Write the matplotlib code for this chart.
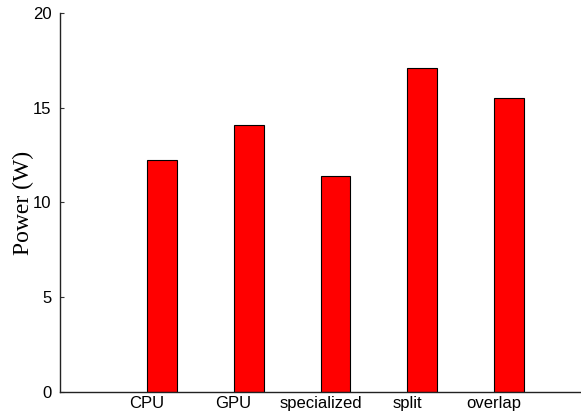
import matplotlib
matplotlib.use("Agg")
import matplotlib.pyplot as plt
import numpy as np

# Power per configuration
categories = ["CPU", "GPU", "specialized", "split", "overlap"]
power = [12.24, 14.09, 11.40, 17.10, 15.51]
y_ticks = [0, 5, 10, 15, 20]

fig = plt.figure(figsize=(5.81, 4.16), dpi=100)
ax = fig.add_axes([0.1033, 0.0577, 0.8967, 0.9111])

x = np.arange(1, len(categories) + 1)
ax.bar(x, power, width=0.345, align="edge", color="#ff0000",
       edgecolor="black", linewidth=0.8)

ax.set_xlim(0, 6)
ax.set_ylim(0, 20)
ax.set_xticks(x)
ax.set_xticklabels(categories, fontname="Liberation Sans", fontsize=12)
ax.set_yticks(y_ticks)
ax.set_yticklabels([str(v) for v in y_ticks], fontname="Liberation Sans", fontsize=12)
ax.tick_params(axis="x", length=0, pad=3)
ax.tick_params(axis="y", direction="in", length=3, pad=6, color="#333333")

for side in ["top", "right"]:
    ax.spines[side].set_visible(False)
for side in ["left", "bottom"]:
    ax.spines[side].set_color("#222222")
    ax.spines[side].set_linewidth(1.0)

ax.set_ylabel("Power (W)", fontname="Liberation Serif", fontsize=17)
ax.yaxis.set_label_coords(-0.050, 0.5)

fig.savefig("out.png", dpi=100)
